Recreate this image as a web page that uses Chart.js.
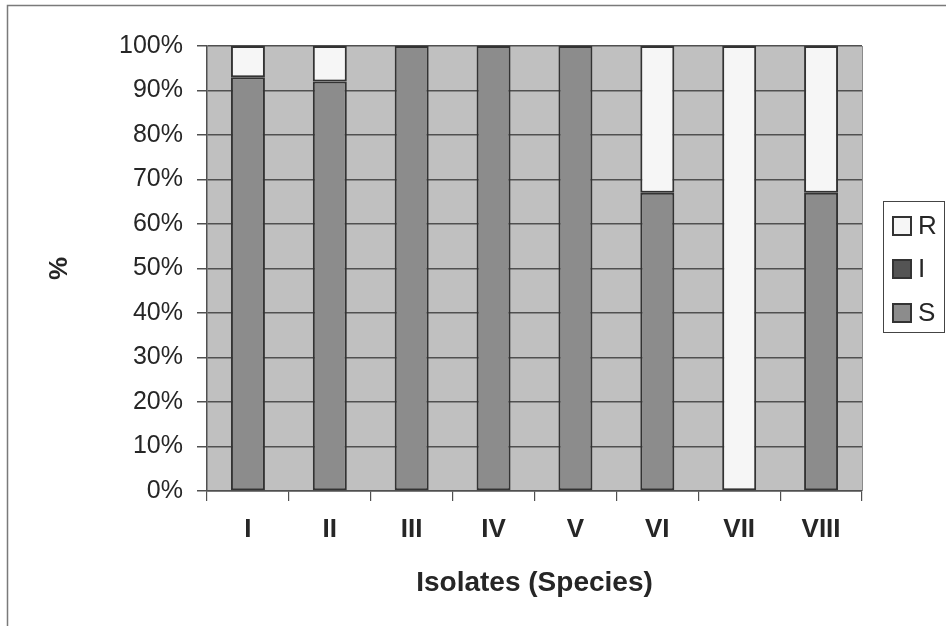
<!DOCTYPE html>
<html>
<head>
<meta charset="utf-8">
<script src="https://cdn.jsdelivr.net/npm/chart.js@4"></script>
<style>
  html, body { margin: 0; padding: 0; background: #ffffff; }
  #wrap { width: 946px; height: 626px; position: relative; }
</style>
</head>
<body>
<div id="wrap"><canvas id="chart" width="946" height="626"></canvas></div>
<script>
// Isolate categories (roman numerals) and susceptibility shares in percent
const categories = ['I', 'II', 'III', 'IV', 'V', 'VI', 'VII', 'VIII'];
const sensitive = [93, 92, 100, 100, 100, 67, 0, 67];     // S
const intermediate = [0, 0, 0, 0, 0, 0, 0, 0];            // I
const resistant = [7, 8, 0, 0, 0, 33, 100, 33];          // R
const yTicks = [0, 10, 20, 30, 40, 50, 60, 70, 80, 90, 100];

const FONT = "'Liberation Sans', Arial, sans-serif";
const TEXT = '#262626';

// Gray plot background, outer frame and right edge of the plot
const frame = {
  id: 'frame',
  beforeDraw(chart) {
    const { ctx, chartArea: a } = chart;
    ctx.save();
    ctx.fillStyle = '#ffffff';
    ctx.fillRect(0, 0, chart.width, chart.height);
    ctx.fillStyle = '#c0c0c0';
    ctx.fillRect(a.left, a.top, a.right - a.left, a.bottom - a.top);
    ctx.strokeStyle = '#7a7a7a';
    ctx.lineWidth = 1.5;
    ctx.strokeRect(7.5, 5.5, 1000, 700);
    ctx.restore();
  },
  afterDatasetsDraw(chart) {
    const { ctx, chartArea: a } = chart;
    ctx.save();
    ctx.strokeStyle = '#8a8a8a';
    ctx.lineWidth = 1;
    ctx.beginPath();
    ctx.moveTo(a.right + 0.5, a.top);
    ctx.lineTo(a.right + 0.5, a.bottom);
    ctx.stroke();
    ctx.restore();
  }
};

// Boxed legend on the right, listing the top series first
const sideLegend = {
  id: 'sideLegend',
  afterDraw(chart) {
    const { ctx } = chart;
    const x0 = 883, y0 = 201, w = 61, h = 131;
    ctx.save();
    ctx.strokeStyle = '#444444';
    ctx.lineWidth = 1;
    ctx.strokeRect(x0 + 0.5, y0 + 0.5, w, h);
    const sets = chart.data.datasets.slice().reverse();
    const centers = [226, 269, 313];
    ctx.font = '26px ' + FONT;
    ctx.textBaseline = 'middle';
    ctx.textAlign = 'left';
    sets.forEach((ds, i) => {
      const cy = centers[i];
      ctx.fillStyle = ds.backgroundColor;
      ctx.fillRect(893, cy - 9, 18, 18);
      ctx.strokeStyle = '#333333';
      ctx.lineWidth = 2;
      ctx.strokeRect(893, cy - 9, 18, 18);
      ctx.fillStyle = TEXT;
      ctx.fillText(ds.label, 918, cy + 1);
    });
    ctx.restore();
  }
};

const border = c => (c.raw ? 2 : 0);

new Chart(document.getElementById('chart'), {
  type: 'bar',
  data: {
    labels: categories,
    datasets: [
      { label: 'S', data: sensitive, backgroundColor: '#8c8c8c', borderColor: '#333333', borderWidth: border, borderSkipped: false },
      { label: 'I', data: intermediate, backgroundColor: '#545454', borderColor: '#333333', borderWidth: border, borderSkipped: false },
      { label: 'R', data: resistant, backgroundColor: '#f6f6f6', borderColor: '#333333', borderWidth: border, borderSkipped: false }
    ]
  },
  options: {
    responsive: false,
    animation: false,
    devicePixelRatio: 1,
    layout: { padding: { left: 8, top: 46, right: 84, bottom: 8 } },
    datasets: { bar: { barPercentage: 0.415, categoryPercentage: 1 } },
    plugins: { legend: { display: false }, tooltip: { enabled: false } },
    scales: {
      x: {
        stacked: true,
        offset: true,
        grid: { offset: true, drawOnChartArea: false, drawTicks: true, tickLength: 10, color: '#505050', lineWidth: 1.2 },
        border: { display: true, color: '#505050', width: 1.5 },
        ticks: { color: TEXT, padding: 13, font: { family: FONT, size: 26, weight: 'bold' }, maxRotation: 0 },
        title: { display: true, text: 'Isolates (Species)', color: TEXT, font: { family: FONT, size: 28, weight: 'bold' }, padding: { top: 0, bottom: 18 } },
        afterFit(scale) { scale.height = 127; }
      },
      y: {
        stacked: true,
        min: 0,
        max: 100,
        afterBuildTicks(scale) { scale.ticks = yTicks.map(v => ({ value: v })); },
        grid: { color: '#505050', lineWidth: 1.5, drawTicks: true, tickLength: 10 },
        border: { display: true, color: '#505050', width: 1.5 },
        ticks: { color: TEXT, padding: 14, font: { family: FONT, size: 25 }, callback: v => v + '%' },
        title: { display: true, text: '%', color: TEXT, font: { family: FONT, size: 26, weight: 'bold' }, padding: { top: 36, bottom: 0 } },
        afterFit(scale) { scale.width = 199; }
      }
    }
  },
  plugins: [frame, sideLegend]
});
</script>
</body>
</html>
